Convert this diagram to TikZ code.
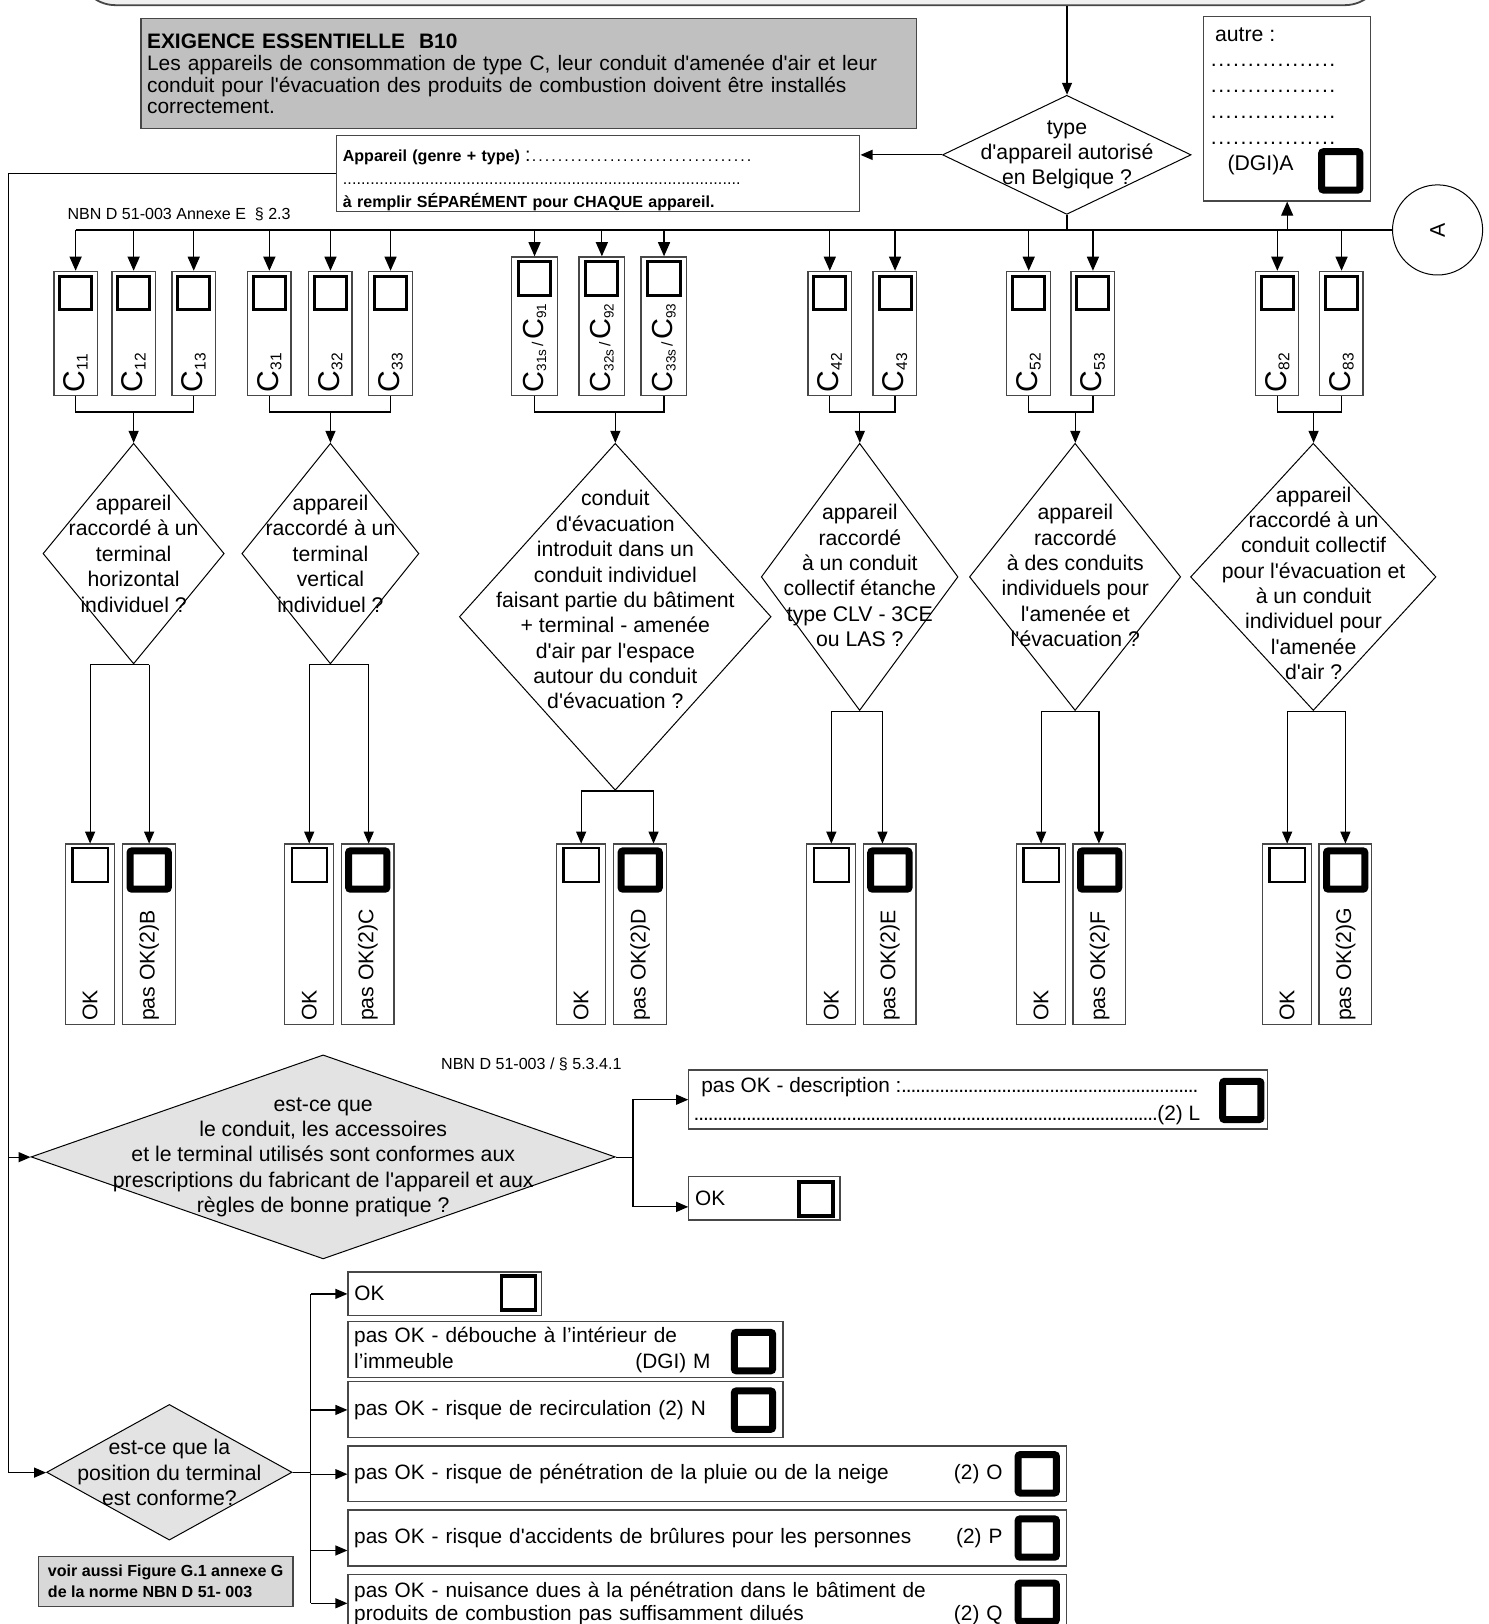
\documentclass[tikz,border=0pt]{standalone}
\usepackage{fontspec}
\setmainfont{Liberation Sans}[Ligatures=TeXOff]
\usepackage{graphicx}
\usetikzlibrary{arrows.meta,positioning,shapes.geometric}
\definecolor{ink}{HTML}{000000}
\definecolor{boxline}{HTML}{474747}
\definecolor{headfill}{HTML}{C0C0C0}
\definecolor{qfill}{HTML}{E3E3E3}
\definecolor{notefill}{HTML}{D8D8D8}
\definecolor{barfill}{HTML}{F0F0F0}
\newcommand{\fs}[2]{\fontsize{#1}{#2}\selectfont}
\newcommand{\dotrule}[2]{\makebox[#1pt]{\xleaders\hbox to #2pt{\hss.\hss}\hfill}}
\newcommand{\Csub}[1]{C{\fs{15}{15}\raisebox{-3pt}{#1}}}
\newcommand{\Csubs}[1]{C{\fs{13}{13}\raisebox{-3pt}{#1}}}
\tikzset{
  every node/.style={inner sep=0pt, font=\fs{20.5}{24.5}},
  link/.style={line width=1.2pt, draw=ink},
  arr/.style={link, -{Triangle[length=12pt,width=10pt]}},
  bigarr/.style={link, -{Triangle[length=14pt,width=12pt]}},
  frame/.style={draw=boxline, line width=1.3pt, fill=white},
  cbox/.style={frame, minimum width=42, minimum height=120},
  cboxs/.style={frame, minimum width=44, minimum height=134},
  okbox/.style={frame, minimum width=47, minimum height=174},
  nokbox/.style={frame, minimum width=51, minimum height=174},
  tick/.style={draw=ink, line width=3pt, minimum width=31, minimum height=32},
  tickthin/.style={draw=ink, line width=2.2pt, minimum width=34, minimum height=33},
  tickmid/.style={draw=ink, line width=3.5pt, minimum width=33, minimum height=33},
  tickfat/.style={draw=ink, line width=7pt, minimum width=37, minimum height=37, rounded corners=2pt},
  question/.style={diamond, draw=ink, line width=1pt, fill=white},
  qtext/.style={align=center},
  answer/.style={frame, align=left, font=\fs{20.1}{24.5}},
  note/.style={font=\fs{15.5}{15.5}},
}

\begin{document}
\begin{tikzpicture}[x=1pt, y=-1pt, scale=1.0355, transform shape]
\useasboundingbox (0,0) rectangle (1437,1568);
\clip (0,0) rectangle (1437,1568);

% header
\node[draw=boxline, line width=1.8pt, fill=barfill, rounded corners=38pt, minimum width=1260, minimum height=90] (head) at (705,-40) {};
\node[frame, fill=headfill, minimum width=749, minimum height=106, text width=737, align=left, font=\fs{20.2}{20.5}] (exig) at (510.5,71)
  {\textbf{EXIGENCE ESSENTIELLE\ \ B10}\\[1.5pt]
   Les appareils de consommation de type C, leur conduit d'amenée d'air et leur\\
   conduit pour l'évacuation des produits de combustion doivent être installés\\
   correctement.};
\node[question, minimum width=240, minimum height=115] (typ) at (1030,149.5) {};
\node[qtext] (typtxt) at (typ) {type\\d'appareil autorisé\\en Belgique ?};
\node[frame, minimum width=505, minimum height=73, text width=493, align=left, font=\fs{15.5}{22}] (app) at (577.5,167.5)
  {\rule{0pt}{25pt}\textbf{Appareil (genre + type)} {\fs{19}{22}:}\dotrule{214}{6.2}\\
   \dotrule{384}{4.4}\\
   \textbf{à remplir SÉPARÉMENT pour CHAQUE appareil.}};
\node[frame, minimum width=161, minimum height=178] (autre) at (1242.5,105) {};
\node[anchor=north west, align=left, font=\fs{20.5}{25}] (autretxt) at (1168,27)
  {\hspace*{5pt}autre :\\[-1pt]\dotrule{122}{6.8}\\\dotrule{122}{6.8}\\\dotrule{122}{6.8}\\\dotrule{122}{6.8}\\[0pt]\hspace*{17pt}(DGI)A};
\node[tickfat] (autre-t) at (1294.5,165) {};
\node[circle, draw=ink, line width=1pt, minimum size=87] (A) at (1388,222) {\rotatebox{90}{A}};
\node[note, anchor=west] (nbn1) at (65,207) {NBN D 51-003 Annexe E\ \ § 2.3};
\coordinate (bus) at (0,222);
\coordinate (rail) at (8,0);

% appliance types
\foreach \nm/\x/\sub in {c11/73/11, c12/129/12, c13/187/13, c31/260/31, c32/319/32, c33/377/33,
    c42/801/42, c43/864/43, c52/993/52, c53/1055/53, c82/1233/82, c83/1295/83}{
  \node[cbox] (\nm) at (\x,322) {};
  \node[tick, below=4pt of \nm.north] (\nm-t) {};
  \node[anchor=south] (\nm-l) at ([yshift=4pt]\nm.south) {\rotatebox{90}{\fs{29}{29}\Csub{\sub}}};
  \draw[bigarr] (\nm |- bus) -- (\nm.north);
}
\foreach \nm/\x/\sub/\alt in {c31s/516/31s/91, c32s/581/32s/92, c33s/641/33s/93}{
  \node[cboxs] (\nm) at (\x,315) {};
  \node[tick, below=4pt of \nm.north] (\nm-t) {};
  \node[anchor=south] (\nm-l) at ([yshift=4pt]\nm.south) {\rotatebox{90}{\fs{28}{28}\Csubs{\sub}{\fs{15}{15}\,/\,}\Csubs{\alt}}};
  \draw[bigarr] (\nm |- bus) -- (\nm.north);
}

\draw[arr] (head.south -| typ) -- (typ.north);
\draw[arr] (typ.west) -- (typ.west -| app.east);
\draw[link] (typ.south) -- (typ |- bus);
\draw[link, line width=2pt] (c11 |- bus) -- (typ |- bus);
\draw[link] (typ |- bus) -- (A.west);
\draw[bigarr] (autre |- bus) -- (autre.south);

% questions per type
\node[question, minimum width=175, minimum height=213] (q1) at (129,534.5) {};
\node[qtext] (q1t) at (q1) {appareil\\raccordé à un\\terminal\\horizontal\\individuel ?};
\node[question, minimum width=171, minimum height=213] (q2) at (319,534.5) {};
\node[qtext] (q2t) at (q2) {appareil\\raccordé à un\\terminal\\vertical\\individuel ?};
\node[question, minimum width=301, minimum height=335] (q3) at (594,595.5) {};
\node[qtext] (q3t) at ([yshift=16.5pt]q3) {conduit\\d'évacuation\\introduit dans un\\conduit individuel\\faisant partie du bâtiment\\+ terminal - amenée\\d'air par l'espace\\autour du conduit\\d'évacuation ?};
\node[question, minimum width=190, minimum height=258] (q4) at (830,557) {};
\node[qtext] (q4t) at ([yshift=1.5pt]q4) {appareil\\raccordé\\à un conduit\\collectif étanche\\type CLV - 3CE\\ou LAS ?};
\node[question, minimum width=204, minimum height=258] (q5) at (1038,557) {};
\node[qtext] (q5t) at ([yshift=1.5pt]q5) {appareil\\raccordé\\à des conduits\\individuels pour\\l'amenée et\\l'évacuation ?};
\node[question, minimum width=237, minimum height=258] (q6) at (1268,557) {};
\node[qtext] (q6t) at ([yshift=-6pt]q6) {appareil\\raccordé à un\\conduit collectif\\pour l'évacuation et\\à un conduit\\individuel pour\\l'amenée\\d'air ?};

\draw[link] (c11.south) -- ++(0,15) -| (c13.south);
\draw[link] (c31.south) -- ++(0,15) -| (c33.south);
\draw[link] (c31s.south) -- ++(0,15) -| (c33s.south);
\draw[link] (c42.south) -- ++(0,15) -| (c43.south);
\draw[link] (c52.south) -- ++(0,15) -| (c53.south);
\draw[link] (c82.south) -- ++(0,15) -| (c83.south);
\foreach \g in {1,...,6}{
  \draw[arr] (q\g |- 0,397) -- (q\g.north);
}

% answers per type
\foreach \g/\ox/\px/\pa/\L in {1/87/144/144/B, 2/298.5/355/356/C, 3/561/618/631/D,
    4/802.5/859/852/E, 5/1005/1061.5/1061/F, 6/1242.5/1299/1299/G}{
  \node[okbox] (o\g) at (\ox,902) {};
  \node[nokbox] (p\g) at (\px,902) {};
  \node[tickthin, below=3pt of o\g.north] (o\g-t) {};
  \node[tickfat, below=3.5pt of p\g.north] (p\g-t) {};
  \node[anchor=south] (o\g-l) at ([yshift=4pt]o\g.south) {\rotatebox{90}{OK}};
  \node[anchor=south] (p\g-l) at ([yshift=4pt]p\g.south) {\rotatebox{90}{pas OK(2)\L}};
  \draw[link] (q\g.south -| o\g) -- (q\g.south -| \pa,0);
  \draw[arr] (q\g.south -| o\g) -- (o\g.north);
  \draw[arr] (q\g.south -| \pa,0) -- (p\g.north -| \pa,0);
}

% conformity of the flue
\node[question, fill=qfill, minimum width=564, minimum height=197] (est) at (312,1117) {};
\node[qtext] (esttxt) at (est) {est-ce que\\le conduit, les accessoires\\et le terminal utilisés sont conformes aux\\prescriptions du fabricant de l'appareil et aux\\règles de bonne pratique ?};
\node[note] (nbn2) at (513,1028) {NBN D 51-003 / § 5.3.4.1};
\node[frame, minimum width=559, minimum height=57] (desc) at (944.5,1061.5) {};
\node[anchor=west, align=left, font=\fs{20.1}{27}] (desctxt) at (670,1063)
  {\hspace*{7pt}pas OK - description :\dotrule{286}{4.6}\\\dotrule{447}{4.6}(2) L};
\node[tickfat] (desc-t) at (1199,1062.5) {};
\node[frame, minimum width=146, minimum height=42] (okL) at (738,1157) {};
\node[anchor=west, font=\fs{20.1}{24}] (okLtxt) at (671,1157) {OK};
\node[tickmid] (okL-t) at (788,1157.5) {};
\coordinate (split1) at (611,1117);
\draw[link] (est.east) -- (split1);
\draw[arr] (split1) |- (desc.west);
\draw[arr] (split1) |- ([yshift=-8pt]okL.west);

% position of the terminal
\node[question, fill=qfill, minimum width=237, minimum height=131] (pos) at (163.5,1421.5) {};
\node[qtext] (postxt) at (pos) {est-ce que la\\position du terminal\\est conforme?};
\node[frame, fill=notefill, minimum width=246, minimum height=48, align=left, font=\bfseries\fs{15.5}{20}] (voir) at (160,1527)
  {voir aussi Figure G.1 annexe G\\de la norme NBN D 51- 003};
\node[frame, minimum width=187, minimum height=42] (ok2) at (429.5,1249) {};
\node[anchor=west, font=\fs{20.1}{24}] (ok2txt) at (342,1249) {OK};
\node[tickmid] (ok2-t) at (500.5,1248.5) {};
\node[answer, minimum width=420, minimum height=54, text width=408, font=\fs{20.1}{25}] (deb) at (546,1303)
  {pas OK - débouche à l’intérieur de\\l’immeuble\hfill(DGI) M\makebox[64pt]{}};
\node[tickfat] (deb-t) at (727.5,1305) {};
\node[answer, minimum width=420, minimum height=54, text width=408] (rec) at (546,1361)
  {pas OK - risque de recirculation (2) N};
\node[tickfat] (rec-t) at (727.5,1361.5) {};
\node[answer, minimum width=694, minimum height=54, text width=682] (plu) at (683,1423)
  {pas OK - risque de pénétration de la pluie ou de la neige\hfill(2) O\makebox[56pt]{}};
\node[tickfat] (plu-t) at (1001.5,1423) {};
\node[answer, minimum width=694, minimum height=54, text width=682] (bru) at (683,1485)
  {pas OK - risque d'accidents de brûlures pour les personnes\hfill(2) P\makebox[56pt]{}};
\node[tickfat] (bru-t) at (1001.5,1485) {};
\node[answer, minimum width=694, minimum height=56, text width=682, font=\fs{20.1}{22}] (nui) at (683,1548)
  {pas OK - nuisance dues à la pénétration dans le bâtiment de\\produits de combustion pas suffisamment dilués\hfill(2) Q\makebox[56pt]{}};
\node[tickfat] (nui-t) at (1001.5,1547) {};
\coordinate (split2) at (300,1421.5);
\draw[link] (pos.east) -- (split2);
\draw[link] (split2 |- ok2) -- (split2 |- 0,1548);
\draw[arr] (split2 |- ok2) -- (ok2.west);
\draw[arr] (split2 |- rec) -- (rec.west);
\draw[arr] (split2 |- plu) -- (plu.west);
\draw[arr] (split2 |- 0,1497) -- (bru.west |- 0,1497);
\draw[arr] (split2 |- 0,1548) -- (nui.west |- 0,1548);

% feed rail on the left
\draw[arr] (app.west) -- (app.west -| rail) -- (rail |- pos) -- (pos.west);
\draw[arr] (rail |- est) -- (est.west);
\end{tikzpicture}
\end{document}
